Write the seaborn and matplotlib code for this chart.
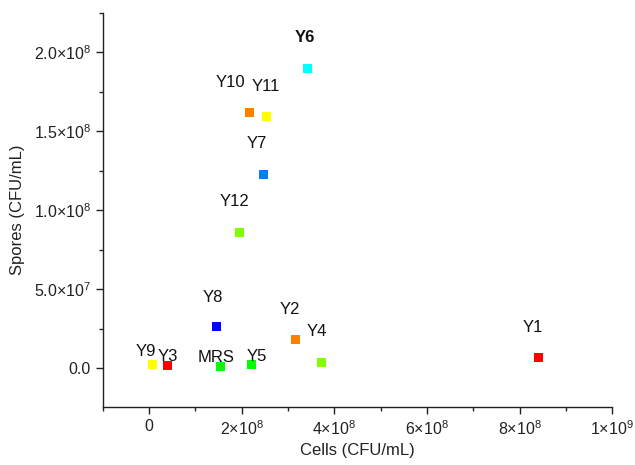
import matplotlib
matplotlib.use("Agg")
import matplotlib.pyplot as plt
import matplotlib.ticker as mticker
import seaborn as sns
import pandas as pd

strains = ["Y1", "Y2", "Y3", "Y4", "Y5", "Y6", "Y7", "Y8", "Y9", "Y10", "Y11", "Y12", "MRS"]
cells = [8.42e8, 3.15e8, 4.0e7, 3.72e8, 2.2e8, 3.41e8, 2.46e8, 1.46e8, 6.5e6, 2.16e8, 2.53e8, 1.96e8, 1.53e8]
spores = [7.0e6, 1.81e7, 1.6e6, 3.8e6, 2.5e6, 1.9e8, 1.23e8, 2.68e7, 2.5e6, 1.622e8, 1.592e8, 8.58e7, 1.3e6]
colors = ["#FF0000", "#FF8000", "#FF0000", "#80FF00", "#00FF00", "#00FFFF", "#0080FF",
          "#0000FF", "#FFFF00", "#FF8000", "#FFFF00", "#80FF00", "#00FF00"]
x_ticks = [0, 2e8, 4e8, 6e8, 8e8, 1e9]
x_ticklabels = ["0", r"$2{\times}10^{8}$", r"$4{\times}10^{8}$", r"$6{\times}10^{8}$", r"$8{\times}10^{8}$", r"$1{\times}10^{9}$"]
y_ticks = [0, 5e7, 1e8, 1.5e8, 2e8]
y_ticklabels = ["0.0", r"$5.0{\times}10^{7}$", r"$1.0{\times}10^{8}$", r"$1.5{\times}10^{8}$", r"$2.0{\times}10^{8}$"]
# label offsets in pixels (dx, dy) relative to marker
label_offsets = {"Y1": (-6, 30), "Y2": (-5, 30), "Y3": (0, 9), "Y4": (-5, 31), "Y5": (6, 8),
                 "Y6": (-2, 31), "Y7": (-6, 31), "Y8": (-4, 29), "Y9": (-6, 13),
                 "Y10": (-19, 30), "Y11": (0, 30), "Y12": (-5, 31), "MRS": (-4, 9)}

sns.set_style("ticks")
plt.rcParams["font.family"] = ["Liberation Sans", "DejaVu Sans"]
plt.rcParams["mathtext.fontset"] = "custom"
plt.rcParams["mathtext.rm"] = "Liberation Sans"
plt.rcParams["mathtext.it"] = "Liberation Sans:italic"

df = pd.DataFrame({"strain": strains, "cells": cells, "spores": spores})

fig = plt.figure(figsize=(6.35, 4.65), dpi=100)
ax = fig.add_axes([0.162, 0.1247, 0.802, 0.8473])
sns.scatterplot(data=df, x="cells", y="spores", hue="strain", palette=dict(zip(strains, colors)),
                marker="s", s=42, edgecolor="none", legend=False, ax=ax)

for s, x, y in zip(strains, cells, spores):
    dx, dy = label_offsets[s]
    ax.annotate(s, (x, y), xytext=(dx, dy), textcoords="offset pixels",
                ha="center", va="center", fontsize=12,
                fontweight="bold" if s == "Y6" else "normal", color="#111111")

ax.set_xlim(-1e8, 1e9)
ax.set_ylim(-2.45e7, 2.25e8)
ax.set_xticks(x_ticks)
ax.set_xticklabels(x_ticklabels)
ax.set_yticks(y_ticks)
ax.set_yticklabels(y_ticklabels)
ax.xaxis.set_minor_locator(mticker.MultipleLocator(1e8))
ax.yaxis.set_minor_locator(mticker.MultipleLocator(2.5e7))
ax.tick_params(which="major", direction="out", length=5, width=1, labelsize=11.5, colors="#222222")
ax.tick_params(which="minor", direction="out", length=3, width=1)
for side in ["top", "right"]:
    ax.spines[side].set_visible(False)
for side in ["left", "bottom"]:
    ax.spines[side].set_linewidth(1)
    ax.spines[side].set_color("#222222")
ax.set_xlabel("Cells (CFU/mL)", fontsize=12, color="#222222", labelpad=4)
ax.set_ylabel("Spores (CFU/mL)", fontsize=12, color="#222222", labelpad=6)

fig.savefig("out.png", dpi=100)
